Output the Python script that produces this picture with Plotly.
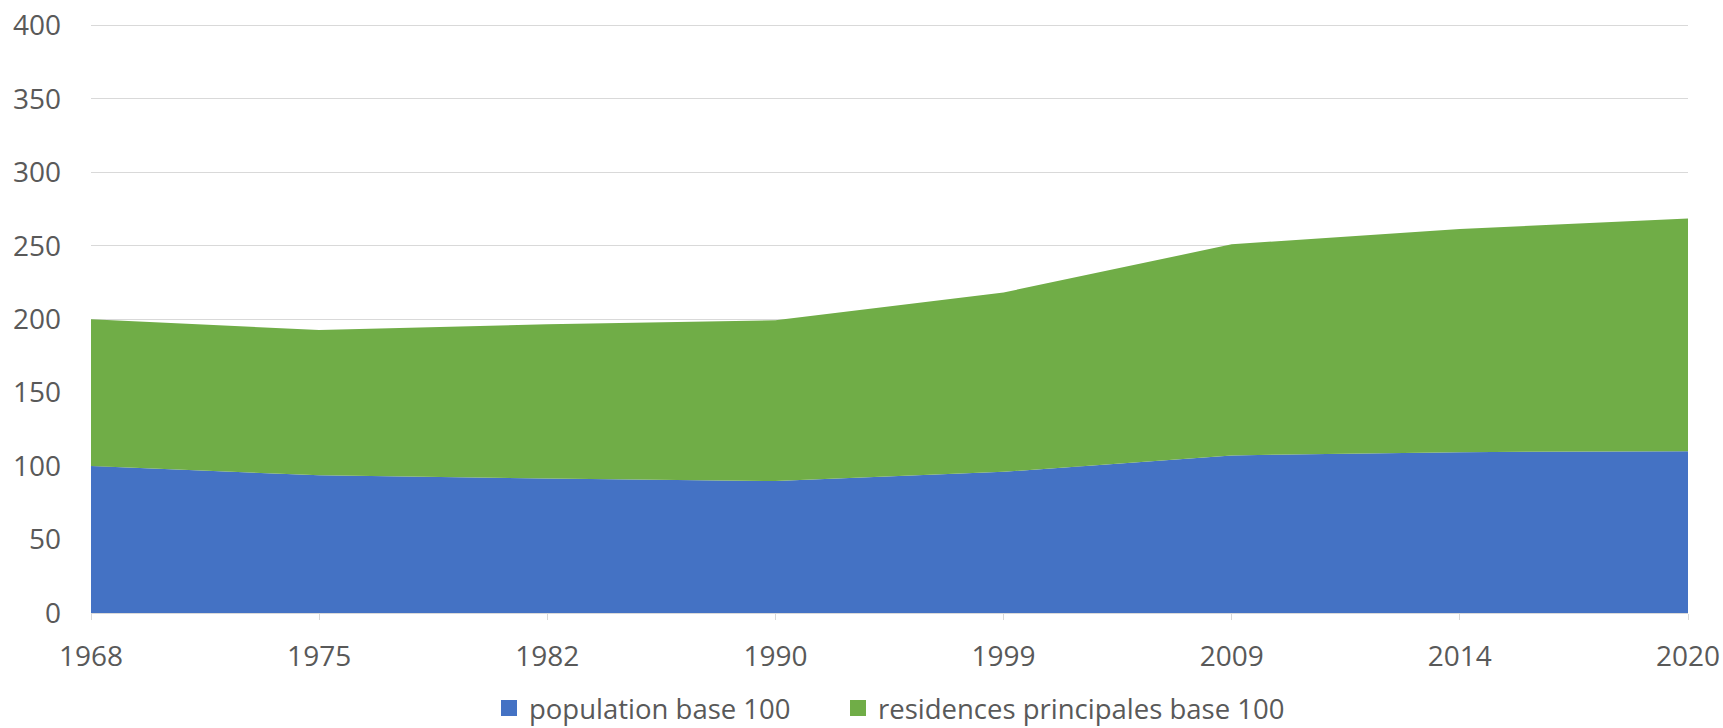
import plotly.graph_objects as go

years = ["1968", "1975", "1982", "1990", "1999", "2009", "2014", "2020"]
population = [100, 93.7, 91.6, 89.8, 96.1, 107.3, 109.5, 110.2]
residences = [100, 98.9, 105.0, 109.5, 122.1, 143.7, 151.9, 158.4]

names = ["population base 100", "residences principales base 100"]
colors = ["#4472C4", "#70AD47"]

fig = go.Figure()

for vals, name, col in zip([population, residences], names, colors):
    fig.add_trace(go.Scatter(
        x=years, y=vals,
        mode="lines",
        stackgroup="one",
        line=dict(width=0, color=col),
        fillcolor=col,
        name=name,
        showlegend=False,
    ))

# square legend keys, like the Excel legend (one legend box per key)
for name, col, lg in zip(names, colors, ["legend", "legend2"]):
    fig.add_trace(go.Scatter(
        x=[None], y=[None],
        mode="markers",
        marker=dict(symbol="square", size=16, color=col),
        name=name,
        legend=lg,
    ))

grey = "#595959"
leg_common = dict(
    orientation="h",
    xanchor="left", xref="container",
    y=20 / 728, yanchor="middle", yref="container",
    font=dict(size=27.5, color=grey),
    bgcolor="rgba(0,0,0,0)",
)

fig.update_layout(
    template="none",
    width=1723, height=728,
    margin=dict(l=91, r=35, t=24, b=115),
    paper_bgcolor="white",
    plot_bgcolor="white",
    font=dict(family="Open Sans, Liberation Sans, sans-serif", size=28, color=grey),
    xaxis=dict(
        type="category",
        range=[0, 7],
        automargin=False,
        showgrid=False,
        showline=True,
        linecolor="#D9D9D9",
        linewidth=1,
        ticks="outside",
        ticklen=6,
        tickcolor="#D9D9D9",
        ticklabelstandoff=12,
        ticklabeloverflow="allow",
        tickfont=dict(size=28, color=grey),
    ),
    yaxis=dict(
        # a little headroom so the 400 gridline is not dropped at the edge
        range=[0, 401],
        tick0=0,
        dtick=50,
        automargin=False,
        showgrid=True,
        gridcolor="#D9D9D9",
        gridwidth=1,
        zeroline=False,
        showline=False,
        ticks="",
        ticklabelstandoff=29,
        ticklabeloverflow="allow",
        tickfont=dict(size=28, color=grey),
    ),
    legend=dict(x=489 / 1723, **leg_common),
    legend2=dict(x=838 / 1723, **leg_common),
)

# drop the default page margin so the figure fills the window exactly
fig.write_html(
    "out.html",
    config={"displayModeBar": False},
    post_script="document.body.style.margin='0';document.body.style.overflow='hidden';",
)
